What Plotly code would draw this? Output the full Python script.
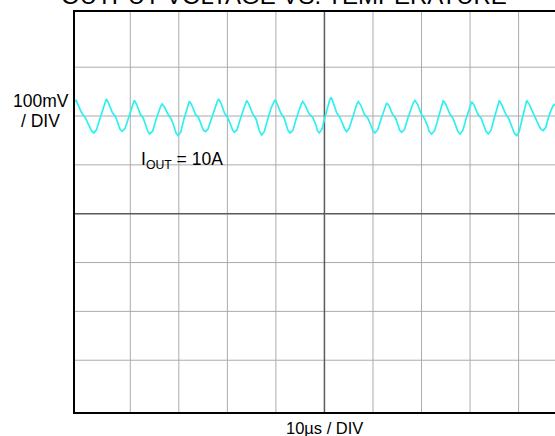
import plotly.graph_objects as go

# Time (µs) and output voltage ripple (mV)
t_us = [
    -1.30, -1.19, -0.8, 0.0, 0.7, 1.5, 2.0, 2.46, 3.0, 3.8, 4.5, 4.8,
    5.06, 5.5, 6.3, 7.0, 7.6, 7.9, 8.29, 8.9, 9.6, 10.3, 10.6,
    10.82, 11.3, 12.0, 12.7, 13.3, 13.6, 14.0, 14.6, 15.3, 16.0, 16.3,
    16.53, 17.0, 17.8, 18.5, 19.1, 19.4, 19.83, 20.4, 21.0, 21.6, 21.9,
    22.15, 22.6, 23.4, 24.1, 24.7, 25.0, 25.45, 26.0, 26.8, 27.5, 27.9,
    28.21, 28.7, 29.4, 30.1, 30.8, 31.1, 31.47, 32.0, 32.7, 33.4, 33.7,
    33.98, 34.4, 35.2, 35.9, 36.4, 36.7, 37.07, 37.6, 38.3, 39.0, 39.5,
    39.81, 40.3, 41.0, 41.7, 42.3, 42.5, 42.90, 43.5, 44.2, 44.9, 45.2,
    45.52, 46.0, 46.8, 47.6, 48.3, 48.5, 48.94, 49.5, 50.2, 50.8, 51.1,
    51.35, 51.8, 52.5, 53.2, 53.9, 54.2, 54.58, 55.1, 55.8, 56.4, 56.7,
    56.97, 57.5, 58.2, 58.9, 59.7, 60.0, 60.41, 61.0, 61.7, 62.3, 62.6,
    62.82, 63.3, 64.0, 64.7, 65.3, 65.5, 65.91, 66.5, 67.2, 67.9, 68.3,
    68.65, 69.2, 69.9, 70.6, 71.3, 71.6, 72.09, 72.7, 73.4, 74.0, 74.2,
    74.48, 75.0, 75.8, 76.5, 77.2, 77.5, 77.92, 78.5, 79.2, 79.8, 80.1,
    80.33, 80.8, 81.6, 82.3, 83.0, 83.3, 83.75, 84.3, 85.0, 85.6, 85.8,
    86.02, 86.5, 87.3, 88.0, 88.8, 89.1, 89.61, 90.1, 90.7, 91.2, 91.4,
    91.67, 92.2, 93.0, 93.6, 94.3, 94.6, 95.09, 95.6, 96.3, 97.0,
    97.5,
]
v_mV = [
    229, 233, 224, 206, 197, 180, 170, 165.4, 171, 196, 219, 229,
    235.0, 227, 207, 198, 181, 173, 168.8, 174, 195, 217, 226,
    232.4, 224, 205, 195, 178, 169, 163.3, 169, 193, 214, 221,
    224.8, 219, 203, 193, 176, 166, 160.0, 167, 192, 215, 224,
    230.3, 224, 204, 196, 179, 172, 168.2, 173, 197, 219, 229,
    235.0, 226, 206, 196, 179, 171, 166.8, 172, 195, 217, 226,
    231.7, 225, 205, 194, 177, 167, 161.3, 168, 193, 216, 227,
    233.0, 224, 206, 196, 178, 170, 165.4, 171, 195, 216, 224,
    229.7, 223, 205, 197, 180, 171, 165.4, 173, 201, 224, 233,
    238.5, 228, 207, 197, 180, 173, 168.2, 175, 197, 217, 225,
    229.7, 222, 204, 196, 178, 170, 165.4, 172, 195, 214, 222,
    226.8, 221, 204, 195, 179, 171, 166.8, 173, 196, 218, 227,
    231.7, 224, 205, 195, 178, 168, 163.3, 170, 194, 217, 225,
    231.7, 224, 205, 195, 177, 168, 163.3, 170, 195, 216, 224,
    229.3, 223, 204, 195, 177, 168, 163.3, 170, 196, 218, 226,
    231.7, 224, 205, 194, 175, 165, 160.0, 167, 193, 216, 225,
    231.7, 224, 205, 194, 178, 173, 170.3, 177, 202, 219,
    224.8,
]

grid_t = [10, 20, 30, 40, 60, 70, 80, 90]
grid_v = [-300, -200, -100, 100, 200, 300]
center_t = 50
center_v = 0

FONT = "Liberation Sans, Arial, sans-serif"

W, H = 555, 436
ML, MT, MB = 75, 12, 24
PW, PH = W - ML, H - MT - MB


def px(xabs):
    return (xabs - ML) / PW


def py(yabs):
    return (H - MB - yabs) / PH


fig = go.Figure()
fig.add_trace(go.Scatter(
    x=t_us, y=v_mV, mode="lines",
    line=dict(color="#2ff0f0", width=1.7),
    hoverinfo="skip", showlegend=False,
))

shapes = []
for g in grid_t:
    shapes.append(dict(type="line", xref="x", yref="paper", x0=g, x1=g, y0=0, y1=1,
                       line=dict(color="#ababab", width=1), layer="below"))
for g in grid_v:
    shapes.append(dict(type="line", xref="paper", yref="y", x0=0, x1=1, y0=g, y1=g,
                       line=dict(color="#ababab", width=1), layer="below"))
shapes.append(dict(type="line", xref="x", yref="paper", x0=center_t, x1=center_t, y0=0, y1=1,
                   line=dict(color="#5a5a5a", width=1.5), layer="below"))
shapes.append(dict(type="line", xref="paper", yref="y", x0=0, x1=1, y0=center_v, y1=center_v,
                   line=dict(color="#5a5a5a", width=1.5), layer="below"))

annotations = [
    dict(text="OUTPUT VOLTAGE VS. TEMPERATURE", xref="paper", yref="paper",
         x=px(284), y=py(-4.0), xanchor="center", yanchor="middle", showarrow=False,
         font=dict(family=FONT, size=24, color="#000")),
    dict(text="100mV", xref="paper", yref="paper",
         x=px(40.5), y=py(100.9), xanchor="center", yanchor="middle",
         showarrow=False, font=dict(family=FONT, size=17.5, color="#000")),
    dict(text="/ DIV", xref="paper", yref="paper",
         x=px(40.5), y=py(120.9), xanchor="center", yanchor="middle",
         showarrow=False, font=dict(family=FONT, size=17.5, color="#000")),
    dict(text="I<sub>OUT</sub> = 10A", xref="paper", yref="paper",
         x=px(139), y=py(160.5), xanchor="left", yanchor="middle",
         showarrow=False, font=dict(family=FONT, size=17.5, color="#000")),
    dict(text="10µs / DIV", xref="paper", yref="paper",
         x=px(324), y=py(428.3), xanchor="center", yanchor="middle",
         showarrow=False, font=dict(family=FONT, size=16.5, color="#000")),
]

fig.update_layout(
    width=W, height=H,
    margin=dict(l=ML, r=0, t=MT, b=MB, pad=0),
    paper_bgcolor="white", plot_bgcolor="white",
    shapes=shapes, annotations=annotations,
    xaxis=dict(range=[-1.39, 97.5], showgrid=False, zeroline=False, showticklabels=False,
               ticks="", showline=True, mirror=True, linecolor="#000", linewidth=2,
               fixedrange=True),
    yaxis=dict(range=[-406, 413], showgrid=False, zeroline=False, showticklabels=False,
               ticks="", showline=True, mirror=False, linecolor="#000", linewidth=2,
               fixedrange=True),
    showlegend=False,
)

fig.write_html(
    "out.html",
    config={"displayModeBar": False},
    post_script="document.body.style.margin='0';document.body.style.overflow='hidden';",
)
